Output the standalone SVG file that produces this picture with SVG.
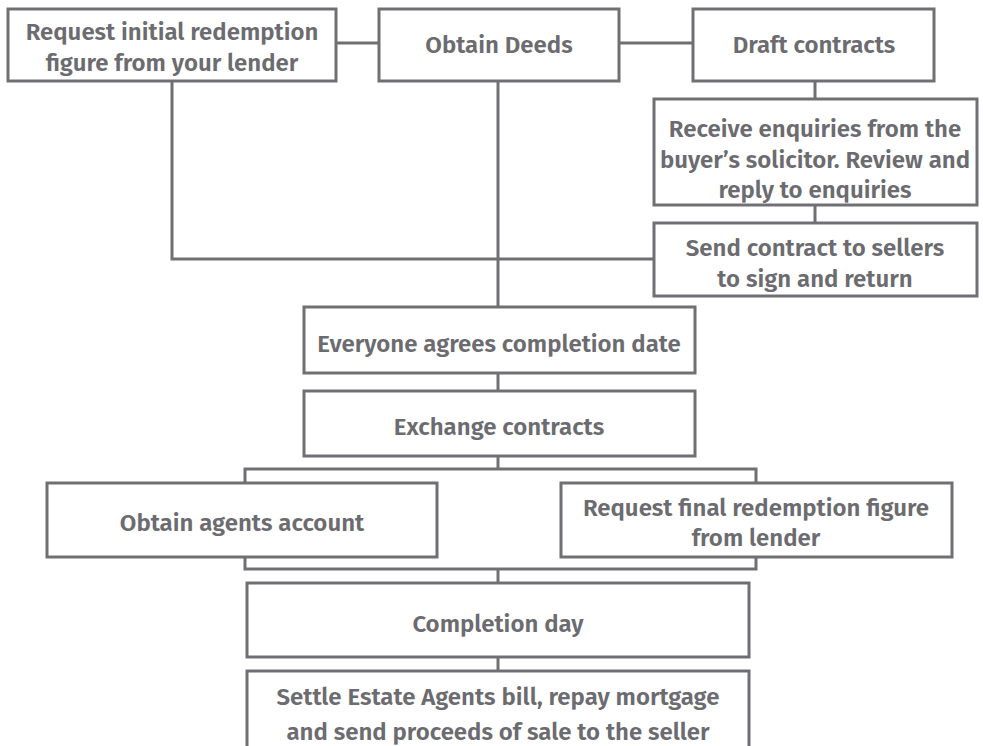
<svg xmlns="http://www.w3.org/2000/svg" width="983" height="746" viewBox="0 0 983 746">
<style>
.box{fill:#ffffff;stroke:#707074;stroke-width:3}
.ln{fill:none;stroke:#707074;stroke-width:3}
text{font-family:"Fira Sans","Open Sans","Noto Sans",sans-serif;font-weight:600;font-size:24px;fill:#6b6b70;text-anchor:middle}
</style>
<rect width="983" height="746" fill="#ffffff"/>
<g id="connectors">
<path class="ln" d="M336,43H379"/>
<path class="ln" d="M619,43H693"/>
<path class="ln" d="M172,81V259H653"/>
<path class="ln" d="M498,81V307"/>
<path class="ln" d="M815,81V99"/>
<path class="ln" d="M815,205V223"/>
<path class="ln" d="M498,373V391"/>
<path class="ln" d="M498,456V469"/>
<path class="ln" d="M245,483V469H756V483"/>
<path class="ln" d="M245,557V569H756V557"/>
<path class="ln" d="M498,569V583"/>
<path class="ln" d="M498,657V671"/>
</g>
<g id="n1"><rect class="box" x="8" y="9" width="328" height="72"/><text x="172" y="40">Request initial redemption</text><text x="172" y="71">figure from your lender</text></g>
<g id="n2"><rect class="box" x="379" y="9" width="240" height="72"/><text x="499" y="53">Obtain Deeds</text></g>
<g id="n3"><rect class="box" x="693" y="9" width="241" height="72"/><text x="814" y="53">Draft contracts</text></g>
<g id="n4"><rect class="box" x="654" y="99" width="323" height="106"/><text x="815" y="137">Receive enquiries from the</text><text x="815" y="168">buyer’s solicitor. Review and</text><text x="815" y="198">reply to enquiries</text></g>
<g id="n5"><rect class="box" x="654" y="223" width="323" height="73"/><text x="815" y="256">Send contract to sellers</text><text x="815" y="287">to sign and return</text></g>
<g id="n6"><rect class="box" x="304" y="307" width="391" height="66"/><text x="499" y="352">Everyone agrees completion date</text></g>
<g id="n7"><rect class="box" x="304" y="391" width="391" height="65"/><text x="499" y="435">Exchange contracts</text></g>
<g id="n8"><rect class="box" x="47" y="483" width="390" height="74"/><text x="242" y="531">Obtain agents account</text></g>
<g id="n9"><rect class="box" x="561" y="483" width="391" height="74"/><text x="756" y="516">Request final redemption figure</text><text x="756" y="546">from lender</text></g>
<g id="n10"><rect class="box" x="247" y="583" width="502" height="74"/><text x="498" y="632">Completion day</text></g>
<g id="n11"><rect class="box" x="247" y="671" width="502" height="100"/><text x="498" y="705">Settle Estate Agents bill, repay mortgage</text><text x="498" y="740">and send proceeds of sale to the seller</text></g>
</svg>
